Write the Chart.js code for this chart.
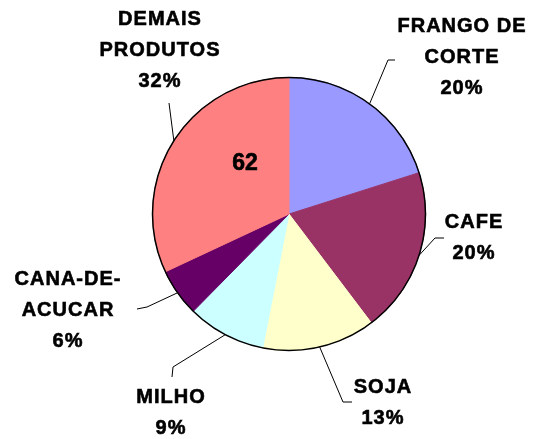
<!DOCTYPE html>
<html>
<head>
<meta charset="utf-8">
<script src="https://cdn.jsdelivr.net/npm/chart.js@4/dist/chart.umd.min.js"></script>
<style>
  html, body { margin: 0; padding: 0; background: #fff; }
  #wrap { width: 534px; height: 439px; }
</style>
</head>
<body>
<div id="wrap"><canvas id="myChart" width="534" height="439"></canvas></div>
<script>
const categories = [["FRANGO DE", "CORTE"], ["CAFE"], ["SOJA"], ["MILHO"], ["CANA-DE-", "ACUCAR"], ["DEMAIS", "PRODUTOS"]];
const values = [39, 38, 26, 18, 11, 62];
const colors = ["#9999FF", "#993366", "#FFFFCC", "#CCFFFF", "#660066", "#FF8080"];
const valueShown = [false, false, false, false, false, true];

// label placement relative to pie centre (first line centre), and leader elbow/end
const labelLayout = [
  { x: 173, y: -188, elbow: [99, -154], end: [106, -154] },
  { x: 185, y: 8, elbow: [146, 24], end: [155, 24] },
  { x: 94, y: 173, elbow: [54, 188], end: [63, 188] },
  { x: -118, y: 183, elbow: [-116, 153], end: [-117, 163] },
  { x: -221, y: 65, elbow: [-142, 93], end: [-152, 95] },
  { x: -129, y: -195, elbow: [-120, -111], end: [-120, -111] },
];
const valueOffset = [-44, -50];

const total = values.reduce((a, b) => a + b, 0);

function boldText(ctx, t, x, y) {
  ctx.fillText(t, x, y);
  ctx.strokeText(t, x, y);
}

const pieLabels = {
  id: "pieLabels",
  afterDatasetsDraw(chart) {
    const ctx = chart.ctx;
    const meta = chart.getDatasetMeta(0);
    const first = meta.data[0];
    const cx = first.x, cy = first.y, r = first.outerRadius;

    ctx.save();
    // outer outline
    ctx.beginPath();
    ctx.arc(cx, cy, r, 0, Math.PI * 2);
    ctx.lineWidth = 1.5;
    ctx.strokeStyle = "#000";
    ctx.stroke();

    ctx.fillStyle = "#000";
    ctx.textAlign = "center";
    ctx.textBaseline = "middle";

    meta.data.forEach((arc, i) => {
      const mid = (arc.startAngle + arc.endAngle) / 2;
      const lay = labelLayout[i];
      // leader line
      ctx.beginPath();
      ctx.lineWidth = 1;
      ctx.moveTo(cx + Math.cos(mid) * r, cy + Math.sin(mid) * r);
      ctx.lineTo(cx + lay.elbow[0], cy + lay.elbow[1]);
      ctx.lineTo(cx + lay.end[0], cy + lay.end[1]);
      ctx.stroke();

      ctx.font = "bold 20px 'Liberation Sans', Arial, sans-serif";
      ctx.letterSpacing = "1px";
      ctx.lineWidth = 0.6;
      const lines = categories[i].concat([Math.round(values[i] / total * 100) + "%"]);
      lines.forEach((t, k) => {
        boldText(ctx, t, cx + lay.x, cy + lay.y + k * 31);
      });

      if (valueShown[i]) {
        ctx.font = "bold 23px 'Liberation Sans', Arial, sans-serif";
        ctx.letterSpacing = "0px";
        boldText(ctx, String(values[i]), cx + valueOffset[0], cy + valueOffset[1]);
      }
    });
    ctx.restore();
  },
};

const chartCtx = document.getElementById("myChart");
var myChart = new Chart(chartCtx, {
  type: "pie",
  data: {
    labels: categories.map((c) => c.join(" ")),
    datasets: [
      {
        data: values,
        backgroundColor: colors,
        borderColor: colors,
        borderWidth: 1,
      },
    ],
  },
  options: {
    responsive: false,
    animation: false,
    layout: { padding: { left: 152, right: 108, top: 77, bottom: 88 } },
    plugins: {
      legend: { display: false },
      tooltip: { enabled: false },
    },
  },
  plugins: [pieLabels],
});
</script>
</body>
</html>
